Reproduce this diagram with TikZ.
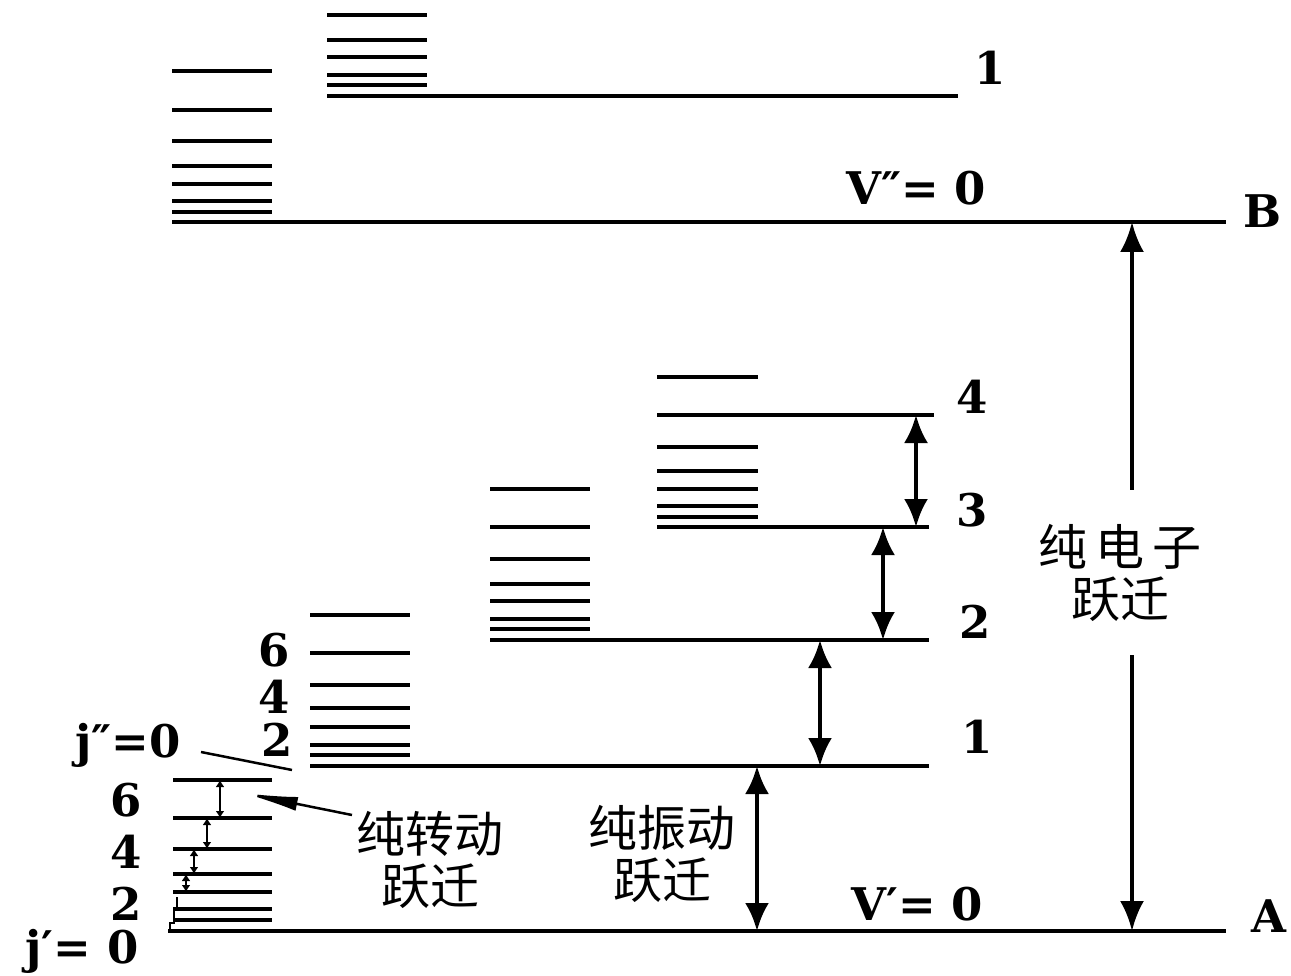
\documentclass[tikz,border=0pt]{standalone}
\usepackage{fontspec}
\setmainfont{DejaVu Serif}
\newfontfamily\cjk{Noto Sans CJK SC}
\usetikzlibrary{arrows.meta}
\begin{document}
\begin{tikzpicture}[x=1pt,y=-1pt,
  lvl/.style={line width=3.5pt},
  mainlvl/.style={line width=4pt},
  num/.style={font=\fontsize{45}{45}\selectfont\bfseries, inner sep=0pt},
  cn/.style={font=\cjk\fontsize{49}{52}\selectfont, inner sep=0pt, align=center},
  varr/.style={line width=4pt, {Latex[length=28pt,width=24pt]}-{Latex[length=28pt,width=24pt]}},
  uparr/.style={line width=4pt, {Latex[length=30pt,width=24pt]}-},
  downarr/.style={line width=4pt, -{Latex[length=30pt,width=24pt]}},
  sarr/.style={line width=2.5pt, {Latex[length=7pt,width=9pt]}-{Latex[length=7pt,width=9pt]}},
  thin/.style={line width=2.5pt},
]
\useasboundingbox (0,0) rectangle (1291,976);

% ---- upper electronic state B ----
\foreach \y in {71,110,141,166,184,201,212} \draw[lvl] (172,\y) -- (272,\y);
\foreach \y in {15,40,57,75,85} \draw[lvl] (327,\y) -- (427,\y);
\draw[mainlvl] (327,96) -- (958,96);
\draw[mainlvl] (172,222) coordinate (Bl) -- (1226,222) coordinate (Br);

% ---- lower electronic state A ----
\foreach \y in {377,447,471,489,506,517} \draw[lvl] (657,\y) -- (758,\y);
\draw[mainlvl] (657,415) -- (934,415);
\draw[mainlvl] (657,527) -- (929,527);
\foreach \y in {489,527,559,584,601,619,629} \draw[lvl] (490,\y) -- (590,\y);
\draw[mainlvl] (490,640) -- (929,640);
\foreach \y in {615,653,685,708,727,745,755} \draw[lvl] (310,\y) -- (410,\y);
\draw[mainlvl] (310,766) coordinate (v1l) -- (929,766);
\foreach \y in {780,818,849,874,892,909,920} \draw[lvl] (173,\y) -- (272,\y);
\draw[mainlvl] (168,931) -- (1226,931);

% ---- vibrational arrows ----
\coordinate (a4) at (916,415); \coordinate (a3) at (916,527);
\draw[varr] (a4) -- (a3);
\coordinate (b3) at (883,527); \coordinate (b2) at (883,640);
\draw[varr] (b3) -- (b2);
\coordinate (c2) at (820,640); \coordinate (c1) at (820,766);
\draw[varr] (c2) -- (c1);
\coordinate (d1) at (757,766); \coordinate (d0) at (757,931);
\draw[varr] (d1) -- (d0);

% ---- electronic arrow ----
\coordinate (eB) at (1132,222); \coordinate (eB2) at (1132,490);
\coordinate (eA2) at (1132,655); \coordinate (eA) at (1132,931);
\draw[uparr] (eB) -- (eB2);
\draw[downarr] (eA2) -- (eA);

% ---- rotational arrows ----
\coordinate (r1) at (220,780); \coordinate (r2) at (220,818);
\draw[sarr] (r1) -- (r2);
\coordinate (r3) at (207,818); \coordinate (r4) at (207,849);
\draw[sarr] (r3) -- (r4);
\coordinate (r5) at (194,849); \coordinate (r6) at (194,874);
\draw[sarr] (r5) -- (r6);
\coordinate (r7) at (186,874); \coordinate (r8) at (186,892);
\draw[sarr] (r7) -- (r8);
\coordinate (r9) at (177,897); \coordinate (r10) at (177,909);
\draw[thin] (r9) -- (r10);
\coordinate (r11) at (174,909); \coordinate (r12) at (174,923);
\coordinate (r13) at (170,923); \coordinate (r14) at (170,931);
\draw[thin] (r11) -- (r12) -- (r13) -- (r14);

% ---- labels ----
\node[num] (n1top) at (990,68) {1};
\node[num] (vpp) at (916,188) {V″= 0};
\node[num] (B) at (1263,211) {B};
\node[num] (n4) at (972,397) {4};
\node[num] (n3) at (972,510) {3};
\node[num] (n2) at (975,622) {2};
\node[num] (n1) at (977,737) {1};
\node[num] (vp) at (917,904) {V′= 0};
\node[num] (A) at (1269,916) {A};

\node[num] (j6u) at (274,650) {6};
\node[num] (j4u) at (274,697) {4};
\node[num] (j2u) at (277,740) {2};
\node[num] (jpp) at (128,745) {j″=0};
\node[num] (j6l) at (126,800) {6};
\node[num] (j4l) at (126,852) {4};
\node[num] (j2l) at (126,904) {2};
\node[num] (jp) at (82,951) {j′= 0};

\coordinate (lead) at (292,770);
\coordinate (leadS) at (201,752);
\draw[thin] (leadS) -- (lead);

\node[cn] (rot) at (430,860) {纯转动\\跃迁};
\node[cn] (vib) at (662,854) {纯振动\\跃迁};
\node[cn] (ele) at (1120,573) {纯\,电\,子\\跃迁};

\coordinate (ptip) at (243,793);
\coordinate (ptail) at (352,815);
\draw[thin, -{Latex[length=55pt,width=14pt]}] (ptail) -- (ptip);
\end{tikzpicture}
\end{document}
